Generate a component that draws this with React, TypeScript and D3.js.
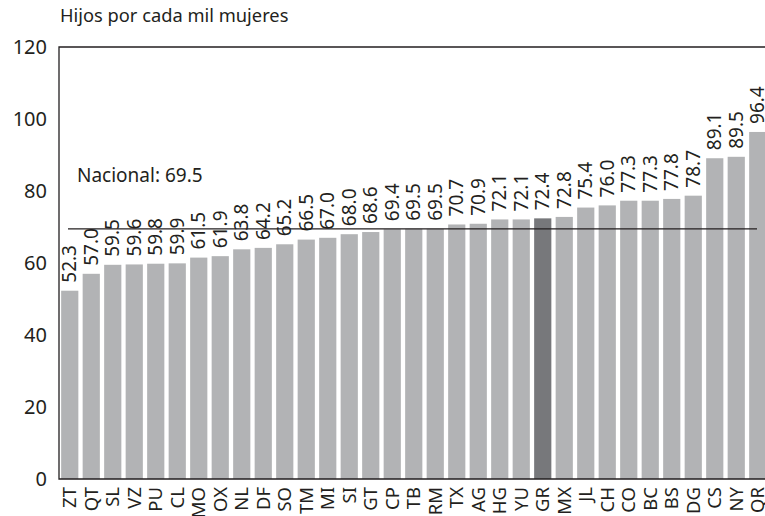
import React, { useRef, useEffect } from "react";
import * as d3 from "d3";

const estados = [
  "ZT", "QT", "SL", "VZ", "PU", "CL", "MO", "OX", "NL", "DF", "SO",
  "TM", "MI", "SI", "GT", "CP", "TB", "RM", "TX", "AG", "HG", "YU",
  "GR", "MX", "JL", "CH", "CO", "BC", "BS", "DG", "CS", "NY", "QR",
];
const tasas = [
  52.3, 57.0, 59.5, 59.6, 59.8, 59.9, 61.5, 61.9, 63.8, 64.2, 65.2,
  66.5, 67.0, 68.0, 68.6, 69.4, 69.5, 69.5, 70.7, 70.9, 72.1, 72.1,
  72.4, 72.8, 75.4, 76.0, 77.3, 77.3, 77.8, 78.7, 89.1, 89.5, 96.4,
];
const yTicks = [0, 20, 40, 60, 80, 100, 120];
const nacional = 69.5;
const destacado = "GR";

const App = () => {
  const svgRef = useRef<SVGSVGElement>(null);

  useEffect(() => {
    const width = 765;
    const font = "'Noto Sans', sans-serif";
    const left = 59;
    const top = 47;
    const bottom = 479;

    const svg = d3.select(svgRef.current);
    svg.selectAll("*").remove();

    const data = estados.map((e, i) => ({ estado: e, valor: tasas[i] }));

    const x = d3
      .scaleBand<string>()
      .domain(estados)
      .range([left, left + 33 * 21.5])
      .paddingInner(0.2)
      .paddingOuter(0.1);

    const y = d3.scaleLinear().domain([0, 120]).range([bottom, top]);

    // titulo
    svg
      .append("text")
      .attr("x", 60)
      .attr("y", 22)
      .attr("font-family", font)
      .attr("font-size", 18.3)
      .attr("fill", "#231f20")
      .text("Hijos por cada mil mujeres");

    // barras
    svg
      .append("g")
      .selectAll("rect")
      .data(data)
      .join("rect")
      .attr("x", (d) => x(d.estado)!)
      .attr("y", (d) => y(d.valor))
      .attr("width", x.bandwidth())
      .attr("height", (d) => y(0) - y(d.valor))
      .attr("fill", (d) => (d.estado === destacado ? "#77787b" : "#b2b3b5"));

    // marco
    svg
      .append("path")
      .attr("d", `M${width},${y(120)}H${left}V${y(0)}H${width}`)
      .attr("fill", "none")
      .attr("stroke", "#231f20")
      .attr("stroke-width", 1.3);

    // ticks del eje y
    svg
      .append("g")
      .selectAll("text")
      .data(yTicks)
      .join("text")
      .attr("x", 47)
      .attr("y", (d) => y(d))
      .attr("dy", "0.35em")
      .attr("text-anchor", "end")
      .attr("font-family", font)
      .attr("font-size", 20)
      .attr("fill", "#231f20")
      .text((d) => d);

    // linea nacional
    svg
      .append("line")
      .attr("x1", 68)
      .attr("x2", 757)
      .attr("y1", y(nacional))
      .attr("y2", y(nacional))
      .attr("stroke", "#231f20")
      .attr("stroke-width", 1.2);

    svg
      .append("text")
      .attr("x", 77)
      .attr("y", 182)
      .attr("font-family", font)
      .attr("font-size", 19)
      .attr("fill", "#231f20")
      .text(`Nacional: ${nacional.toFixed(1)}`);

    // etiquetas de valor
    svg
      .append("g")
      .selectAll("text")
      .data(data)
      .join("text")
      .attr(
        "transform",
        (d) =>
          `translate(${x(d.estado)! + x.bandwidth() / 2 + 6.5},${y(d.valor) - 8}) rotate(-90)`
      )
      .attr("font-family", font)
      .attr("font-size", 19)
      .attr("fill", "#231f20")
      .text((d) => d.valor.toFixed(1));

    // etiquetas de categoria
    svg
      .append("g")
      .selectAll("text")
      .data(data)
      .join("text")
      .attr(
        "transform",
        (d) =>
          `translate(${x(d.estado)! + x.bandwidth() / 2 + 6.5},${bottom + 8}) rotate(-90)`
      )
      .attr("text-anchor", "end")
      .attr("font-family", font)
      .attr("font-size", 18.5)
      .attr("fill", "#231f20")
      .text((d) => d.estado);
  }, []);

  return (
    <svg
      ref={svgRef}
      width={765}
      height={516}
      style={{ position: "absolute", left: 0, top: 0, background: "#fff" }}
    ></svg>
  );
};

export default App;
